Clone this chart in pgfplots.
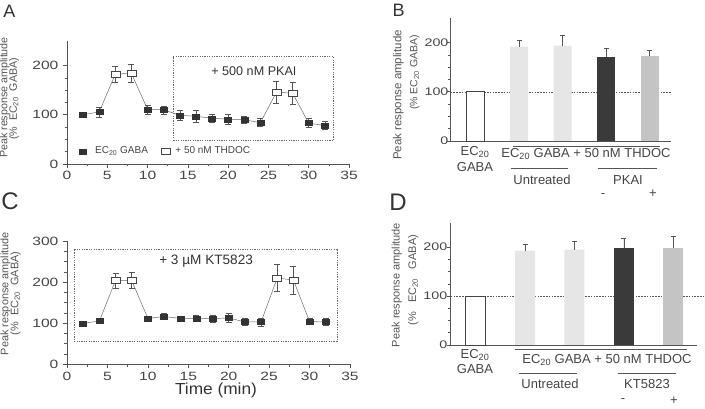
\documentclass[border=0pt]{standalone}
\usepackage{fontspec}
\setmainfont{Liberation Sans}
\usepackage{pgfplots}
\pgfplotsset{compat=1.18}
\definecolor{axc}{HTML}{555555}
\definecolor{txc}{HTML}{444444}
\definecolor{lc}{HTML}{6A6A6A}
\definecolor{mk}{HTML}{333333}
\definecolor{lightbar}{HTML}{E6E6E6}
\definecolor{darkbar}{HTML}{3A3A3A}
\definecolor{midbar}{HTML}{C4C4C4}
\newcommand{\fs}[1]{\fontsize{#1bp}{#1bp}\selectfont}
% rotated y label lines: x1, y1, size1, x2, y2, size2, spaces
\newcommand{\ylab}[7]{%
  \node[text=axc, rotate=90, font=\fs{#3}] at (#1bp,#2bp) {Peak response amplitude};
  \node[text=axc, rotate=90, font=\fs{#6}] at (#4bp,#5bp) {(\%#7EC\textsubscript{20}#7GABA)};
}
\pgfplotsset{
  myaxis/.style={
    scale only axis,
    axis lines*=left,
    axis line style={axc, line width=0.6bp},
    every tick/.style={axc, line width=0.6bp},
    tick align=outside,
    major tick length=4bp,
    minor tick length=2.5bp,
    ymin=0,
    minor y tick num=3,
    /pgf/number format/assume math mode=true,
    tick label style={font=\fs{12}, txc, xscale=1.3},
    clip=false,
  },
  ebars/.style={error bars/y explicit, error bars/error bar style={axc, line width=0.5bp},
    error bars/error mark options={rotate=90, mark size=#1, axc, line width=0.5bp}},
  blk/.style={only marks, mark=square*, mark size=2.5bp, mark options={fill=mk, draw=mk, xscale=1.4},
    error bars/y dir=both, ebars=3bp},
  opn/.style={only marks, mark=square*, mark size=3bp, mark options={fill=white, draw=txc, line width=0.6bp, xscale=1.5},
    error bars/y dir=both, ebars=3bp},
  conn/.style={lc, line width=0.5bp, no markers, forget plot},
  bar/.style={ybar, bar shift=0pt, draw=none, error bars/y dir=plus, ebars=2.5bp},
  refdash/.style={axc, line width=0.45bp, dash pattern=on 1.6bp off 1.2bp, forget plot},
}
\begin{document}
\begin{tikzpicture}
\useasboundingbox (0,0) rectangle (705bp,409bp);

% ---------------- Panel A ----------------
\begin{axis}[myaxis, at={(67bp,245bp)}, anchor=south west, width=282bp, height=123bp,
  xmin=0, xmax=35, ymax=250, xtick={0,5,...,35}, minor x tick num=1, ytick={0,100,200},
  legend style={at={(axis cs:1.55,26)}, anchor=west, draw=none, fill=none, inner sep=0pt,
    font=\fs{10}, text=txc, legend columns=2,
    /tikz/column 1/.style={column sep=6.5bp},
    /tikz/column 2/.style={column sep=11bp},
    /tikz/column 3/.style={column sep=3.5bp}},
  legend cell align=left]
\addplot[refdash, black!60, line width=0.5bp, dash pattern=on 1.2bp off 1.2bp] coordinates {(13.2,48) (33.1,48) (33.1,218) (13.2,218) (13.2,48)};
\addplot[conn] table {
x y
2 100
4 106
6 183
8 184
10 111
12 110
14 99
16 97
18 93
20 91
22 90
24 84
26 146
28 144
30 83
32 78
};
\addplot[blk] table[y error=e] {
x y e
2 100 2
4 106 10
10 111 9
12 110 8
14 99 10
16 97 12
18 93 8
20 91 11
22 90 8
24 84 8
30 83 9
32 78 8
};
\addplot[opn] table[y error=e] {
x y e
6 183 16
8 184 18
26 146 23
28 144 23
};
\legend{EC\textsubscript{20} GABA, + 50 nM THDOC}
\node[font=\fs{12.6}, text=mk] at (axis cs:23.2,188) {+ 500 nM PKAI};
\end{axis}

% ---------------- Panel C ----------------
\begin{axis}[myaxis, at={(67bp,44.7bp)}, anchor=south west, width=283bp, height=123.3bp,
  xmin=0, xmax=35, ymax=300, xtick={0,5,...,35}, minor x tick num=1, ytick={0,100,200,300}]
\addplot[refdash, black!60, line width=0.5bp, dash pattern=on 1.2bp off 1.2bp] coordinates {(0.9,56) (33.4,56) (33.4,281) (0.9,281) (0.9,56)};
\addplot[conn] table {
x y
2 100
4 105
6 204
8 204
10 112
12 116
14 112
16 112
18 111
20 113
22 103
24 103
26 210
28 205
30 104
32 103
};
\addplot[blk] table[y error=e] {
x y e
2 100 3
4 105 5
10 112 5
12 116 7
14 112 6
16 112 8
18 111 8
20 113 10
22 103 8
24 103 10
30 104 7
32 103 8
};
\addplot[opn] table[y error=e] {
x y e
6 204 18
8 204 20
26 210 33
28 205 34
};
\node[font=\fs{13.6}, text=mk] at (axis cs:17.2,250) {+ 3 µM KT5823};
\end{axis}

% ---------------- Panel B ----------------
\begin{axis}[myaxis, at={(450.5bp,268bp)}, anchor=south west, width=220bp, height=123bp,
  xmin=-0.575, xmax=4.48, ymax=250, xtick=\empty, ytick={0,100,200},
  tick label style={font=\fs{11}}, yticklabel style={xshift=5bp}]
\addplot[refdash] coordinates {(-0.575,100) (4.48,100)};
\addplot[bar, bar width=18bp, fill=white, draw=txc, line width=0.7bp] coordinates {(0,100)};
\addplot[bar, bar width=18bp, fill=lightbar] coordinates {(1,192) +- (0,13) (2,194) +- (0,20)};
\addplot[bar, bar width=18bp, fill=darkbar] coordinates {(3,171) +- (0,17)};
\addplot[bar, bar width=18bp, fill=midbar] coordinates {(4,172) +- (0,13)};
\end{axis}

% ---------------- Panel D ----------------
\begin{axis}[myaxis, at={(450.7bp,64bp)}, anchor=south west, width=246.3bp, height=122.3bp,
  xmin=-0.505, xmax=4.48, ymax=250, xtick=\empty, ytick={0,100,200},
  tick label style={font=\fs{11}}, yticklabel style={xshift=4bp}]
\addplot[refdash] coordinates {(-0.505,100) (4.6,100)};
\addplot[bar, bar width=20bp, fill=white, draw=txc, line width=0.7bp] coordinates {(0,100)};
\addplot[bar, bar width=20bp, fill=lightbar] coordinates {(1,193) +- (0,12) (2,195) +- (0,18)};
\addplot[bar, bar width=20bp, fill=darkbar] coordinates {(3,199) +- (0,20)};
\addplot[bar, bar width=20bp, fill=midbar] coordinates {(4,199) +- (0,23)};
\end{axis}

% ---------------- texts ----------------
\begin{scope}[every node/.style={text=mk}]
\node[font=\fs{18}] at (9.5bp,398bp) {A};
\node[font=\fs{18}] at (398.5bp,399bp) {B};
\node[font=\fs{24}] at (10bp,208bp) {C};
\node[font=\fs{24}] at (398bp,206.5bp) {D};
\end{scope}

\ylab{4.6}{311.5}{10.7}{14}{310}{10.7}{\ \ }
\ylab{5.5}{115.5}{10.9}{15.5}{115.5}{10.9}{\ \ }
\ylab{398.3}{314}{11.5}{414.7}{336.5}{10.5}{\ }
\ylab{396.7}{124}{11}{413.3}{129}{11}{\ \ \ }

\node[font=\fs{16}, text=mk, xscale=1.08] at (216bp,18.3bp) {Time (min)};

% B annotations
\begin{scope}[every node/.style={text=txc, font=\fs{13}}]
\node at (475bp,257bp) {EC\textsubscript{20}};
\node at (475bp,242bp) {GABA};
\draw[axc, line width=0.6bp] (513bp,263bp) -- (660bp,263bp);
\node at (586bp,255bp) {EC\textsubscript{20} GABA + 50 nM THDOC};
\draw[axc, line width=0.6bp] (511bp,241bp) -- (568bp,241bp);
\draw[axc, line width=0.6bp] (598bp,241bp) -- (657bp,241bp);
\node at (542bp,229bp) {Untreated};
\node at (628bp,229bp) {PKAI};
\node at (603bp,213bp) {-};
\node at (653bp,215bp) {+};
% D annotations
\node at (475bp,54bp) {EC\textsubscript{20}};
\node at (475bp,40bp) {GABA};
\draw[axc, line width=0.6bp] (515bp,60bp) -- (687bp,60bp);
\node at (607bp,49bp) {EC\textsubscript{20} GABA + 50 nM THDOC};
\draw[axc, line width=0.6bp] (519bp,36bp) -- (577bp,36bp);
\draw[axc, line width=0.6bp] (618bp,36bp) -- (676bp,36bp);
\node at (550bp,25bp) {Untreated};
\node at (647bp,25bp) {KT5823};
\node at (623bp,8bp) {-};
\node at (674bp,8bp) {+};
\end{scope}
\end{tikzpicture}
\end{document}
